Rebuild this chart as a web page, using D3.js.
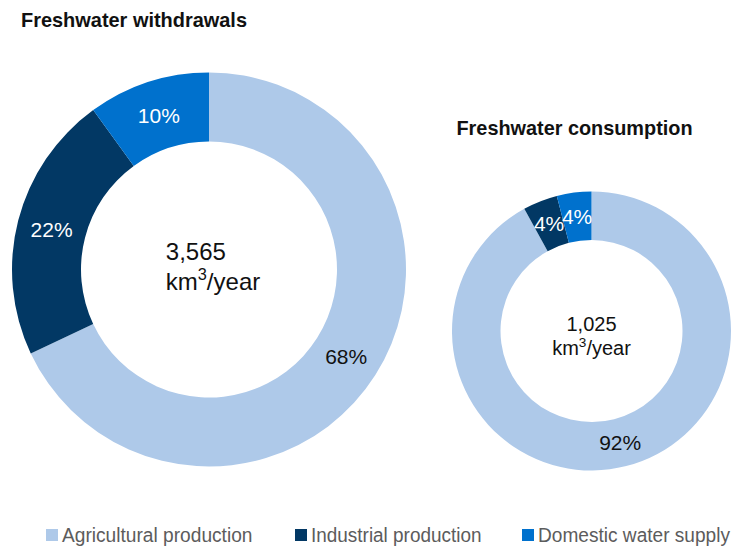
<!DOCTYPE html>
<html>
<head>
<meta charset="utf-8">
<script src="https://cdn.jsdelivr.net/npm/d3@7"></script>
<style>
  html, body { margin: 0; padding: 0; background: #fff; }
  svg { display: block; font-family: "Liberation Sans", Arial, Helvetica, sans-serif; }
</style>
</head>
<body>
<svg id="chart" width="737" height="548"></svg>
<script>
// ---- data ----
const categories = ["Agricultural production", "Industrial production", "Domestic water supply"];
const withdrawalShares = [68, 22, 10];
const consumptionShares = [92, 4, 4];
const chartTitles = ["Freshwater withdrawals", "Freshwater consumption"];
const totals = ["3,565", "1,025"];
const unitMain = "km";
const unitSup = "3";
const unitRest = "/year";

// ---- styles ----
const colors = ["#aec9e9", "#023864", "#0071cd"];
const labelColors = ["#111111", "#ffffff", "#ffffff"];

const svg = d3.select("#chart");
const color = d3.scaleOrdinal().domain(categories).range(colors);
const labelColor = d3.scaleOrdinal().domain(categories).range(labelColors);

const charts = [
  { title: chartTitles[0], values: withdrawalShares, total: totals[0],
    cx: 209, cy: 269.5, R: 197, r: 128, fs: 21, centerFs: 24,
    titleX: 21, titleY: 27, titleW: 226, align: "left", line1: -9.5, line2: 20.5 },
  { title: chartTitles[1], values: consumptionShares, total: totals[1],
    cx: 591.5, cy: 331, R: 139.5, r: 91, fs: 21, centerFs: 20,
    titleX: 456.5, titleY: 135, titleW: 236, align: "center", line1: 0, line2: 24 }
];

const pie = d3.pie().sort(null).value(d => d.value).startAngle(0).endAngle(2 * Math.PI);

charts.forEach(c => {
  const data = categories.map((k, i) => ({ key: k, value: c.values[i] }));
  const arcs = pie(data);
  const arc = d3.arc().innerRadius(c.r).outerRadius(c.R);
  const g = svg.append("g").attr("transform", `translate(${c.cx},${c.cy})`);

  g.selectAll("path").data(arcs).join("path")
    .attr("d", arc)
    .attr("fill", d => color(d.data.key));

  g.selectAll("text.pct").data(arcs).join("text")
    .attr("class", "pct")
    .attr("transform", d => `translate(${arc.centroid(d)})`)
    .attr("text-anchor", "middle")
    .attr("dy", "0.36em")
    .attr("font-size", c.fs)
    .attr("fill", d => labelColor(d.data.key))
    .text(d => d.data.value + "%");

  // center text
  const t1 = g.append("text")
    .attr("font-size", c.centerFs).attr("fill", "#111")
    .attr("y", c.line1)
    .text(c.total);
  const t2 = g.append("text")
    .attr("font-size", c.centerFs).attr("fill", "#111")
    .attr("y", c.line2);
  t2.append("tspan").text(unitMain);
  t2.append("tspan").attr("font-size", c.centerFs * 0.68).attr("dy", -c.centerFs * 0.42).text(unitSup);
  t2.append("tspan").attr("dy", c.centerFs * 0.42).text(unitRest);

  if (c.align === "center") {
    t1.attr("text-anchor", "middle").attr("x", 0);
    t2.attr("text-anchor", "middle").attr("x", 0);
  } else {
    const w = Math.max(t1.node().getComputedTextLength(), t2.node().getComputedTextLength());
    t1.attr("x", -w / 2 + 4);
    t2.attr("x", -w / 2 + 4);
  }

  // title
  svg.append("text")
    .attr("x", c.titleX).attr("y", c.titleY)
    .attr("font-size", 21).attr("font-weight", "bold").attr("fill", "#111")
    .attr("textLength", c.titleW).attr("lengthAdjust", "spacingAndGlyphs")
    .text(c.title);
});

// ---- legend ----
const legendX = [46, 295, 522];
const legendW = [190.5, 170.5, 192];
const legend = svg.append("g");
categories.forEach((k, i) => {
  legend.append("rect")
    .attr("x", legendX[i]).attr("y", 529)
    .attr("width", 12).attr("height", 12)
    .attr("fill", color(k));
  legend.append("text")
    .attr("x", legendX[i] + 16).attr("y", 542)
    .attr("font-size", 19.5).attr("fill", "#5c5c5c")
    .attr("textLength", legendW[i]).attr("lengthAdjust", "spacingAndGlyphs")
    .text(k);
});
</script>
</body>
</html>
